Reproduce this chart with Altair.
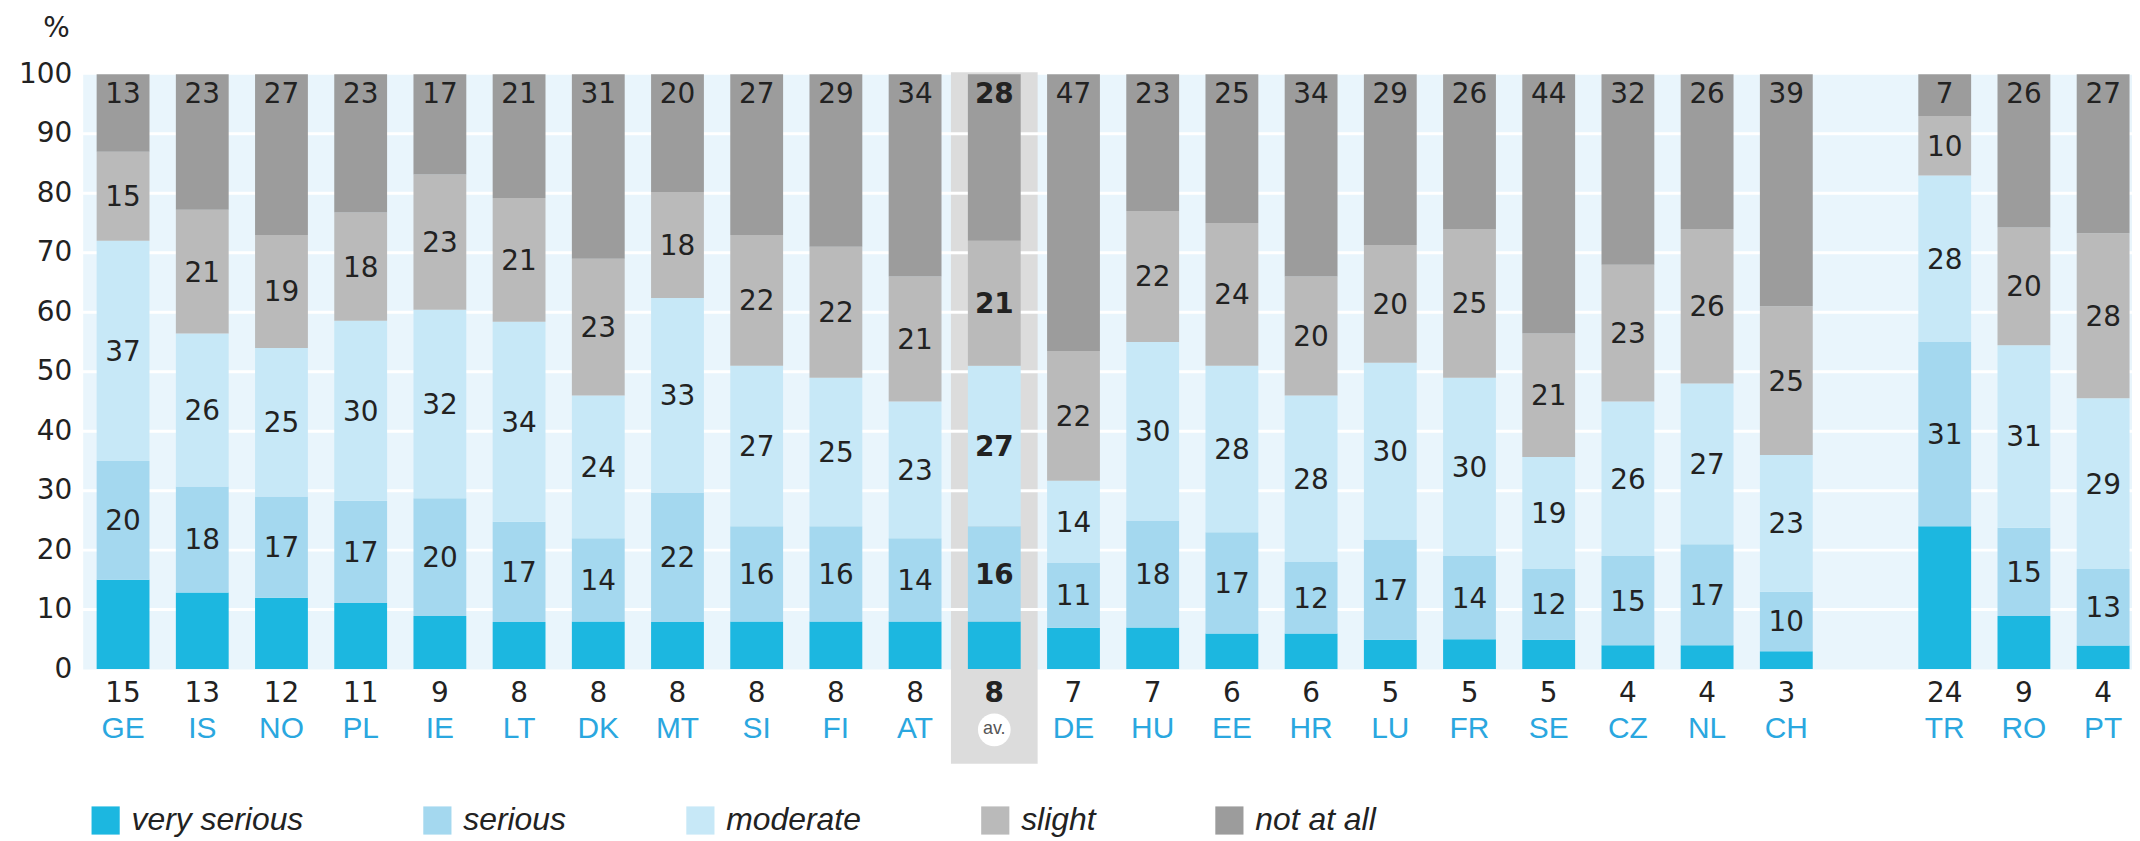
import altair as alt
import pandas as pd

# ---- data ----
countries = ["GE", "IS", "NO", "PL", "IE", "LT", "DK", "MT", "SI", "FI", "AT", "av.",
             "DE", "HU", "EE", "HR", "LU", "FR", "SE", "CZ", "NL", "CH", "TR", "RO", "PT"]
very_serious = [15, 13, 12, 11, 9, 8, 8, 8, 8, 8, 8, 8, 7, 7, 6, 6, 5, 5, 5, 4, 4, 3, 24, 9, 4]
serious = [20, 18, 17, 17, 20, 17, 14, 22, 16, 16, 14, 16, 11, 18, 17, 12, 17, 14, 12, 15, 17, 10, 31, 15, 13]
moderate = [37, 26, 25, 30, 32, 34, 24, 33, 27, 25, 23, 27, 14, 30, 28, 28, 30, 30, 19, 26, 27, 23, 28, 31, 29]
slight = [15, 21, 19, 18, 23, 21, 23, 18, 22, 22, 21, 21, 22, 22, 24, 20, 20, 25, 21, 23, 26, 25, 10, 20, 28]
not_at_all = [13, 23, 27, 23, 17, 21, 31, 20, 27, 29, 34, 28, 47, 23, 25, 34, 29, 26, 44, 32, 26, 39, 7, 26, 27]
categories = ["very serious", "serious", "moderate", "slight", "not at all"]
colors = ["#1cb7e0", "#a4d8ef", "#c7e8f7", "#bababa", "#9c9c9c"]
y_ticks = [0, 10, 20, 30, 40, 50, 60, 70, 80, 90, 100]
grid_lines = [10, 20, 30, 40, 50, 60, 70, 80, 90]
gap = " "
x_domain = countries[:22] + [gap] + countries[22:]

series = [very_serious, serious, moderate, slight, not_at_all]
rows = []
for i, c in enumerate(countries):
    for k, (cat, vals) in enumerate(zip(categories, series)):
        rows.append({"country": c, "cat": cat, "k": k, "value": vals[i]})
df = pd.DataFrame(rows)

NUM_FONT = "DejaVu Sans"
TXT_FONT = "Liberation Sans"
DARK = "#222222"

x_enc = alt.X("country:N",
              scale=alt.Scale(domain=x_domain, paddingInner=0.333,
                              paddingOuter=0.1035, align=0.85),
              axis=None)
y_scale = alt.Scale(domain=[0, 100], nice=False)
y_axis = alt.Axis(values=y_ticks, title=None, domain=False, ticks=False,
                  grid=False, labelFont=NUM_FONT, labelFontSize=28,
                  labelColor=DARK, labelPadding=11)

base = (alt.Chart(df)
        .transform_joinaggregate(total="sum(value)", groupby=["country"])
        .transform_calculate(pct="datum.value / datum.total * 100"))

# grey background of the average column
avg_bg = base.transform_filter("datum.country == 'av.' && datum.k == 0").mark_bar(
    size=87, color="#dcdcdc").encode(
    x=x_enc, y=alt.value(-2), y2=alt.value(692))

grid = alt.Chart(pd.DataFrame({"g": grid_lines})).mark_rule(
    color="white", strokeWidth=3).encode(
    y=alt.Y("g:Q", scale=y_scale, axis=y_axis))

bars = base.mark_bar().encode(
    x=x_enc,
    y=alt.Y("pct:Q", stack="zero", scale=y_scale, axis=y_axis),
    color=alt.Color("cat:N", scale=alt.Scale(domain=categories, range=colors),
                    legend=alt.Legend(title=None, orient="none", direction="horizontal",
                                      columns=5, legendX=7, legendY=733,
                                      symbolType="square", symbolSize=800,
                                      symbolStrokeWidth=0, symbolOpacity=1,
                                      labelFont=TXT_FONT, labelFontSize=32,
                                      labelFontStyle="italic", labelColor=DARK,
                                      labelLimit=500,
                                      labelOffset=10, columnPadding=118, padding=0)),
    order=alt.Order("k:Q", sort="ascending"),
)

stacked = (base.transform_stack(stack="pct", groupby=["country"], as_=["y0", "y1"],
                                sort=[alt.SortField("k", order="ascending")])
           .transform_calculate(mid="(datum.y0 + datum.y1) / 2"))

def mid_labels(cond, weight):
    return stacked.transform_filter(cond).mark_text(
        font=NUM_FONT, fontSize=28, color=DARK, fontWeight=weight,
        baseline="middle", dy=2).encode(
        x=x_enc, y=alt.Y("mid:Q", scale=y_scale, axis=y_axis), text="value:Q")

mid_norm = mid_labels("datum.k > 0 && datum.k < 4 && datum.country != 'av.'", "normal")
mid_avg = mid_labels("datum.k > 0 && datum.k < 4 && datum.country == 'av.'", "bold")

def top_labels(cond, weight):
    return base.transform_filter(cond).mark_text(
        font=NUM_FONT, fontSize=28, color=DARK, fontWeight=weight,
        baseline="middle").encode(x=x_enc, y=alt.value(21), text="value:Q")

top_norm = top_labels("datum.k == 4 && datum.country != 'av.'", "normal")
top_avg = top_labels("datum.k == 4 && datum.country == 'av.'", "bold")

def below_vals(cond, weight):
    return base.transform_filter(cond).mark_text(
        font=NUM_FONT, fontSize=28, color=DARK, fontWeight=weight,
        baseline="middle").encode(x=x_enc, y=alt.value(622), text="value:Q")

below_norm = below_vals("datum.k == 0 && datum.country != 'av.'", "normal")
below_avg = below_vals("datum.k == 0 && datum.country == 'av.'", "bold")

country_lbl = base.transform_filter("datum.k == 0 && datum.country != 'av.'").mark_text(
    font=TXT_FONT, fontSize=30, color="#2aa7df", baseline="middle").encode(
    x=x_enc, y=alt.value(657), text="country:N")

avg_circle = base.transform_filter("datum.k == 0 && datum.country == 'av.'").mark_circle(
    size=1075, color="white", opacity=1).encode(x=x_enc, y=alt.value(658))

avg_text = base.transform_filter("datum.k == 0 && datum.country == 'av.'").mark_text(
    font=TXT_FONT, fontSize=18, color="#555555", baseline="middle").encode(
    x=x_enc, y=alt.value(657), text="country:N")

pct_sign = alt.Chart(pd.DataFrame({"t": ["%"]})).mark_text(
    font=NUM_FONT, fontSize=28, color=DARK, align="right", baseline="middle").encode(
    x=alt.value(-13), y=alt.value(-45), text="t:N")

chart = alt.layer(
    avg_bg, grid, bars, mid_norm, mid_avg, top_norm, top_avg,
    below_norm, below_avg, country_lbl, avg_circle, avg_text, pct_sign
).properties(
    width=2057, height=597,
    padding={"left": 75, "top": 65, "right": 0, "bottom": 168},
    autosize=alt.AutoSizeParams(type="none"),
).configure_view(fill="#e9f5fc", stroke="transparent")

chart.save("out.html", embed_options={"renderer": "svg", "actions": False})
